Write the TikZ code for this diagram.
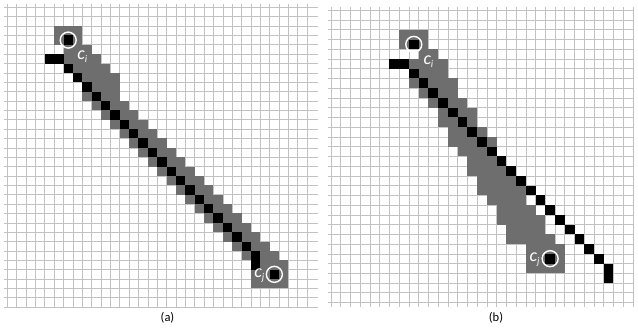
\documentclass[tikz,border=0pt]{standalone}
\usepackage{fontspec}
\setmainfont{Carlito}
\begin{document}
\begin{tikzpicture}[x=1pt,y=-1pt]
\tikzset{
  gridline/.style={draw=black!24, line width=0.6pt},
  band/.style={fill=black!57},
  blk/.style={fill=black},
  ring/.style={circle, draw=white, line width=1.4pt, minimum size=16pt, inner sep=0pt},
  lab/.style={text=white, inner sep=0pt, font=\itshape\fontsize{18}{18}\selectfont},
  captext/.style={inner sep=0pt, font=\fontsize{12.5}{13}\selectfont}
}
\useasboundingbox (0,0) rectangle (638,330);
% ---------- panel (a)
\begin{scope}[shift={(7.3,7.3)}, x=9.37pt, y=-9.37pt]
  \foreach \k in {0,...,32} {
    \draw[gridline] (\k,-0.35) -- (\k,32);
    \draw[gridline] (-0.35,\k) -- (33.2,\k);
  }
  \fill[band] (5,2) rectangle (8,4);
  \fill[band] (26,27) rectangle (30,30);
  \foreach \r/\l/\q in {4/6/8,5/6/9,6/7/10,7/8/11,8/8/11}
    \fill[band] (\l,\r) rectangle (\q+1,\r+1);
  \foreach \r in {9,...,26}
    \fill[band] (\r-1,\r) rectangle (\r+3,\r+1);
  \foreach \c/\r in {4/5,5/5,26/26,26/27,6/3,28/28}
    \fill[blk] (\c,\r) rectangle (\c+1,\r+1);
  \foreach \k in {6,...,25}
    \fill[blk] (\k,\k) rectangle (\k+1,\k+1);
  \node[ring] (ringai) at (6.5,3.5) {};
  \node[ring] (ringaj) at (28.5,28.5) {};
  \node[lab] (labai) at (8.0,5.3) {c\raisebox{-0.35ex}{\fontsize{10}{10}\selectfont i}};
  \node[lab] (labaj) at (26.9,28.6) {c\raisebox{-0.35ex}{\fontsize{10}{10}\selectfont j}};
\end{scope}
\node[captext] (capa) at (167.5,318) {(a)};
% ---------- panel (b)
\begin{scope}[shift={(331,10.3)}, x=9.74pt, y=-9.74pt]
  \foreach \k in {0,...,31}
    \draw[gridline] (\k,-0.3) -- (\k,30.5);
  \foreach \k in {0,...,30}
    \draw[gridline] (-0.3,\k) -- (31,\k);
  \fill[band] (7,2) rectangle (10,4);
  \fill[band] (20,24) rectangle (24,27);
  \foreach \r/\l/\q in {4/9/10,5/8/11,6/8/11,7/8/12,8/9/12,9/10/13,10/11/14,11/11/14,12/12/15,13/12/16,14/13/16,15/14/17,16/14/17,17/15/18,18/15/19,19/16/19,20/17/20,21/17/21,22/18/21,23/18/22}
    \fill[band] (\l,\r) rectangle (\q+1,\r+1);
  \foreach \c/\r in {6/5,7/5,28/26,28/27,8/3,22/25}
    \fill[blk] (\c,\r) rectangle (\c+1,\r+1);
  \foreach \k in {0,...,19}
    \fill[blk] (8+\k,6+\k) rectangle (9+\k,7+\k);
  \node[ring] (ringbi) at (8.5,3.5) {};
  \node[ring] (ringbj) at (22.5,25.5) {};
  \node[lab] (labbi) at (10.0,5.3) {c\raisebox{-0.35ex}{\fontsize{10}{10}\selectfont i}};
  \node[lab] (labbj) at (20.9,25.6) {c\raisebox{-0.35ex}{\fontsize{10}{10}\selectfont j}};
\end{scope}
\node[captext] (capb) at (496,318) {(b)};
\end{tikzpicture}
\end{document}
